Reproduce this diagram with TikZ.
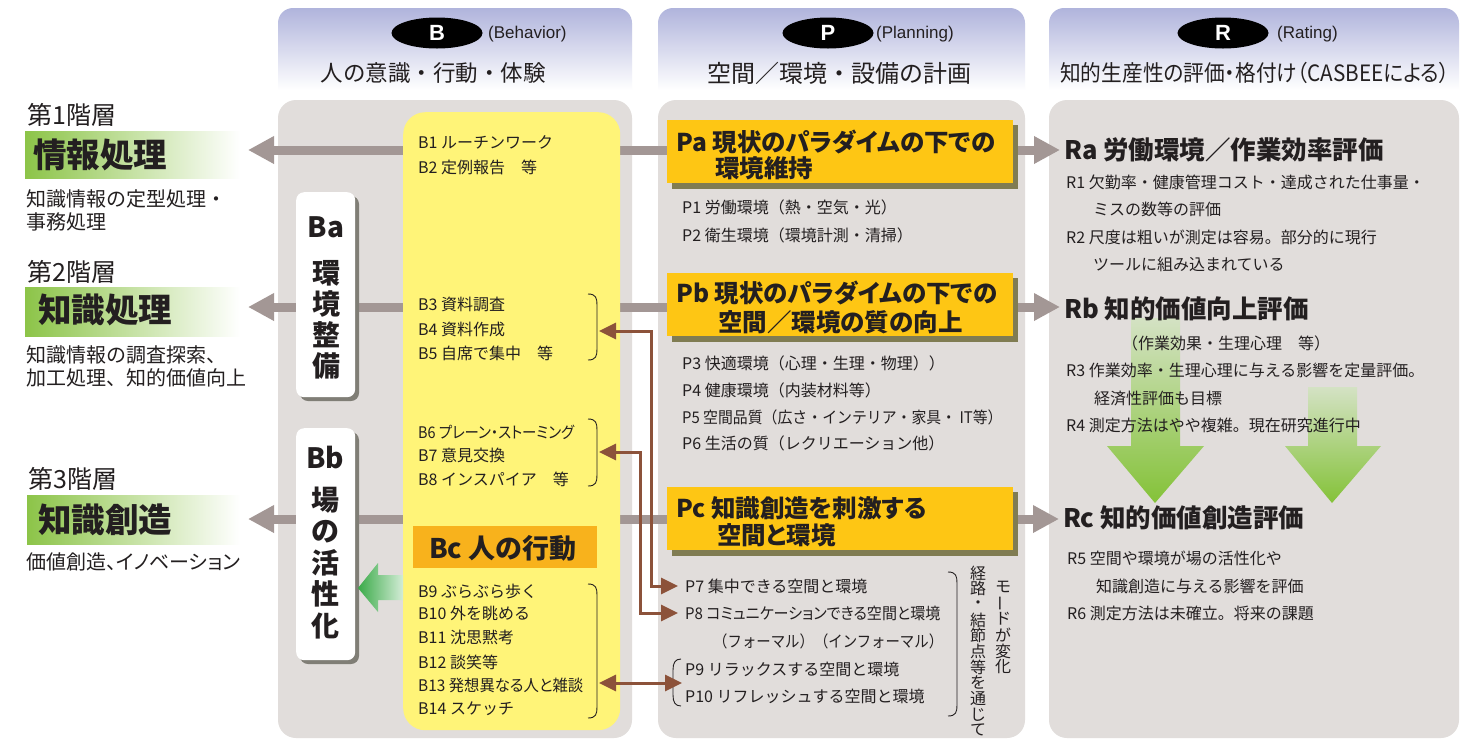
\documentclass[tikz,border=0pt]{standalone}
\usepackage{fontspec}
\setmainfont{Noto Sans CJK JP}
\newfontfamily\pfam{Noto Sans CJK JP}[RawFeature=+palt]
\newfontfamily\lat{Liberation Sans}
\usetikzlibrary{arrows.meta,shapes.geometric,calc}
\definecolor{txt}{RGB}{35,31,32}
\definecolor{panel}{RGB}{225,221,219}
\definecolor{hdr}{RGB}{176,180,220}
\definecolor{gline}{RGB}{163,151,149}
\definecolor{ybox}{RGB}{255,244,120}
\definecolor{pboxc}{RGB}{254,198,20}
\definecolor{bcbox}{RGB}{248,178,28}
\definecolor{olive}{RGB}{128,124,82}
\definecolor{wshadow}{RGB}{128,126,118}
\definecolor{brn}{RGB}{140,82,58}
\definecolor{lgreen}{RGB}{140,196,72}
\definecolor{dgreen}{RGB}{58,170,72}
\definecolor{gtop}{RGB}{212,226,196}
\definecolor{gbot}{RGB}{132,194,56}
\newcommand{\myfs}[1]{\fontsize{#1}{#1}\selectfont}
\newcommand{\myrbrace}[3]{\draw[brace] ({#1-9},#2) .. controls ({#1-1},#2) and (#1,{#2+4}) .. (#1,{#2+11}) -- (#1,{#3-11}) .. controls (#1,{#3-4}) and ({#1-1},#3) .. ({#1-9},#3);}
\pgfdeclarelayer{back}
\pgfdeclarelayer{lines}
\pgfdeclarelayer{shad}
\pgfsetlayers{back,lines,shad,main}
\begin{document}
\begin{tikzpicture}[x=1pt,y=-1pt,
  tx/.style={anchor=west,inner sep=0pt,text=txt,font=\myfs{16}},
  ptx/.style={anchor=west,inner sep=0pt,text=txt,font=\pfam\myfs{16}},
  hd/.style={anchor=west,inner sep=0pt,text=txt,font=\pfam\bfseries\myfs{24.5}},
  rhd/.style={anchor=west,inner sep=0pt,text=txt,font=\pfam\bfseries\myfs{25.5}},
  lvl/.style={anchor=west,inner sep=0pt,text=txt,font=\myfs{25}},
  big/.style={anchor=west,inner sep=0pt,text=txt,font=\bfseries\myfs{33.5}},
  desc/.style={anchor=west,inner sep=0pt,text=txt,font=\myfs{20}},
  vch/.style={inner sep=0pt,text=txt,font=\bfseries\myfs{28}},
  sch/.style={inner sep=0pt,text=txt,font=\myfs{16}},
  pboxst/.style={fill=pboxc,anchor=north west,minimum width=346pt,minimum height=63pt,inner sep=0pt},
  wboxst/.style={fill=white,rounded corners=8pt,anchor=north west,minimum width=59pt,inner sep=0pt},
  gl/.style={draw=gline,line width=9pt,-{Triangle[length=26pt,width=26pt]}},
  br/.style={draw=brn,line width=3pt,{Triangle[length=17pt,width=16pt]}-{Triangle[length=17pt,width=16pt]}},
  brace/.style={draw=txt,line width=0.9pt},
  ell/.style={ellipse,fill=black,minimum width=91pt,minimum height=31pt,inner sep=0pt,text=white,font=\lat\bfseries\myfs{22}},
  sub/.style={inner sep=0pt,text=txt,font=\myfs{22.5}},
  eng/.style={anchor=west,inner sep=0pt,text=txt,font=\lat\myfs{17}},
]
\useasboundingbox (0,0) rectangle (1481,740);
\begin{pgfonlayer}{back}
\fill[white] (0,0) rectangle (1481,740);
\foreach \a/\b in {278/632,658/1025,1049/1459}{
  \shade[top color=hdr,bottom color=white] (\a,90) -- (\a,23) arc[start angle=180,end angle=270,radius=15] -- ({\b-15},8) arc[start angle=270,end angle=360,radius=15] -- (\b,90) -- cycle;
  \fill[panel,rounded corners=18pt] (\a,100) rectangle (\b,738);
}
\end{pgfonlayer}

% headers
\node[ell] (EB) at (437,33) {B};
\node[eng] (EBt) at (488,34) {(Behavior)};
\node[sub] (SB) at (433,73) {人の意識・行動・体験};
\node[ell] (EP) at (828,33) {P};
\node[eng] (EPt) at (876,34) {(Planning)};
\node[sub,font=\myfs{24}] (SP) at (839,73) {空間／環境・設備の計画};
\node[ell] (ER) at (1223,33) {R};
\node[eng] (ERt) at (1277,34) {(Rating)};
\node[sub,font=\pfam\myfs{22.5}] (SR) at (1255,73) {\scalebox{0.92}[1]{知的生産性の評価・格付け（CASBEEによる）}};

% left levels
\shade[left color=lgreen,right color=white] (25,131) rectangle (240,178);
\shade[left color=lgreen,right color=white] (25,287) rectangle (240,336);
\shade[left color=lgreen,right color=white] (27,495) rectangle (240,544);
\node[lvl] (L1) at (27,115) {第1階層};
\node[big] (K1) at (33,155) {情報処理};
\node[desc] (D1a) at (26,199) {知識情報の定型処理・};
\node[desc] (D1b) at (26,222) {事務処理};
\node[lvl] (L2) at (27,272) {第2階層};
\node[big] (K2) at (38,310) {知識処理};
\node[desc] (D2a) at (26,355) {知識情報の調査探索、};
\node[desc] (D2b) at (26,378) {加工処理、知的価値向上};
\node[lvl] (L3) at (28,479) {第3階層};
\node[big] (K3) at (38,520) {知識創造};
\node[desc,font=\pfam\myfs{20}] (D3a) at (26,562) {価値創造、イノベーション};
\coordinate (T1) at (248,150);
\coordinate (T2) at (248,307);
\coordinate (T3) at (248,519);

% B column boxes
\begin{pgfonlayer}{shad}
\fill[wshadow,rounded corners=8pt] (300,196) rectangle (359,401);
\fill[wshadow,rounded corners=8pt] (300,432) rectangle (359,664);
\fill[olive] (418,531) rectangle (602,573);
\fill[olive] (672,125) rectangle (1018,189);
\fill[olive] (672,278) rectangle (1018,342);
\fill[olive] (672,492) rectangle (1018,556);
\end{pgfonlayer}
\node[wboxst,minimum height=205pt] (Ba) at (296,192) {};
\node[wboxst,minimum height=232pt] (Bb) at (296,428) {};
\node[fill=ybox,rounded corners=22pt,anchor=north west,minimum width=217pt,minimum height=618pt,inner sep=0pt] (Yb) at (403,112) {};
\node[fill=bcbox,anchor=north west,minimum width=184pt,minimum height=42pt,inner sep=0pt] (Bc) at (413,526) {};
\shade[left color=dgreen,right color=dgreen!22!white] (358,588) -- (378,563) -- (378,575) -- (403,575) -- (403,600) -- (378,600) -- (378,612) -- cycle;

\node[vch] (Bat) at (326,227) {Ba};
\foreach \c/\y [count=\i] in {環/273,境/304,整/335,備/366} \node[vch] (ba\i) at (326,\y) {\c};
\node[vch] (Bbt) at (325,457) {Bb};
\foreach \c/\y [count=\i] in {場/500,の/532,活/563,性/594,化/626} \node[vch] (bb\i) at (325,\y) {\c};

% P boxes
\node[pboxst] (Pa) at (667,120) {};
\node[pboxst] (Pb) at (667,273) {};
\node[pboxst] (Pc) at (667,487) {};

% B texts
\node[tx] (B1) at (418,142) {B1 ルーチンワーク};
\node[tx] (B2) at (418,167) {B2 定例報告　等};
\node[tx] (B3) at (418,304) {B3 資料調査};
\node[tx] (B4) at (418,329) {B4 資料作成};
\node[tx] (B5) at (418,353) {B5 自席で集中　等};
\node[ptx] (B6) at (418,432) {\scalebox{0.9}[1]{B6 プレーン・ストーミング}};
\node[tx] (B7) at (418,455) {B7 意見交換};
\node[tx] (B8) at (418,479) {B8 インスパイア　等};
\node[anchor=west,inner sep=0pt,text=txt,font=\pfam\bfseries\myfs{27}] (BcT) at (429,548) {Bc 人の行動};
\node[tx] (B9) at (418,591) {B9 ぶらぶら歩く};
\node[tx] (B10) at (418,613) {B10 外を眺める};
\node[tx] (B11) at (418,637) {B11 沈思黙考};
\node[tx] (B12) at (418,662) {B12 談笑等};
\node[ptx] (B13) at (418,685) {\scalebox{0.96}[1]{B13 発想異なる人と雑談}};
\node[tx] (B14) at (418,709) {B14 スケッチ};
\myrbrace{597}{294}{360}
\myrbrace{597}{419}{486}
\myrbrace{597}{584}{718}

% P texts
\node[hd] (PaT) at (676,142) {Pa 現状のパラダイムの下での};
\node[hd] (PaT2) at (715,168) {環境維持};
\node[tx] (P1) at (682,207) {P1 労働環境（熱・空気・光）};
\node[tx] (P2) at (682,235) {P2 衛生環境（環境計測・清掃）};
\node[hd] (PbT) at (676,293) {Pb 現状のパラダイムの下での};
\node[hd] (PbT2) at (718,322) {空間／環境の質の向上};
\node[tx] (P3) at (682,363) {P3 快適環境（心理・生理・物理））};
\node[tx] (P4) at (682,390) {P4 健康環境（内装材料等）};
\node[tx] (P5) at (682,417) {\scalebox{0.93}[1]{P5 空間品質（広さ・インテリア・家具・ IT等）}};
\node[tx] (P6) at (682,443) {P6 生活の質（レクリエーション他）};
\node[hd] (PcT) at (676,508) {Pc 知識創造を刺激する};
\node[hd] (PcT2) at (717,535) {空間と環境};
\node[tx] (P7) at (685,586) {P7 集中できる空間と環境};
\node[ptx] (P8) at (685,613) {\scalebox{0.94}[1]{P8 コミュニケーションできる空間と環境}};
\node[tx] (P8b) at (713,641) {\scalebox{0.9}[1]{（フォーマル）（インフォーマル）}};
\node[tx] (P9) at (685,669) {P9 リラックスする空間と環境};
\node[tx] (P10) at (685,696) {P10 リフレッシュする空間と環境};
\draw[brace] (681,659) .. controls (675,659) and (673,663) .. (673,670) -- (673,695) .. controls (673,702) and (675,706) .. (681,706);
\myrbrace{957}{572}{716}
\foreach \c [count=\i] in {モ,{\rotatebox[origin=c]{90}{ー}},ド,が,変,化} \node[sch] (vr\i) at (1003,{587+16*(\i-1)}) {\c};
\foreach \c [count=\i] in {経,路,・,結,節,点,等,を,通,じ,て} \node[sch] (vl\i) at (978,{573+15.7*(\i-1)}) {\c};

% R column
\shade[top color=gtop,bottom color=gbot] (1131,318) -- (1180,318) -- (1180,446) -- (1204,446) -- (1155,503) -- (1107,446) -- (1131,446) -- cycle;
\shade[top color=gtop,bottom color=gbot] (1308,387) -- (1357,387) -- (1357,446) -- (1381,446) -- (1332,503) -- (1285,446) -- (1308,446) -- cycle;
\node[rhd] (Ra) at (1064,150) {Ra 労働環境／作業効率評価};
\node[tx] (R1) at (1066,182) {R1 欠勤率・健康管理コスト・達成された仕事量・};
\node[tx] (R1b) at (1093,209) {ミスの数等の評価};
\node[tx] (R2) at (1066,237) {R2 尺度は粗いが測定は容易。部分的に現行};
\node[tx] (R2b) at (1093,264) {ツールに組み込まれている};
\node[rhd] (Rb) at (1064,309) {Rb 知的価値向上評価};
\node[tx] (Rbs) at (1122,343) {（作業効果・生理心理　等）};
\node[tx] (R3) at (1066,370) {R3 作業効率・生理心理に与える影響を定量評価。};
\node[tx] (R3b) at (1094,398) {経済性評価も目標};
\node[tx] (R4) at (1066,425) {R4 測定方法はやや複雑。現在研究進行中};
\node[rhd] (Rc) at (1063,518) {Rc 知的価値創造評価};
\node[tx] (R5) at (1067,558) {R5 空間や環境が場の活性化や};
\node[tx] (R5b) at (1096,586) {知識創造に与える影響を評価};
\node[tx] (R6) at (1067,613) {R6 測定方法は未確立。将来の課題};

% gray connectors
\begin{pgfonlayer}{lines}
\draw[gl] (Pa.west |- T1) -- (T1);
\draw[gl] (Pb.west |- T2) -- (T2);
\draw[gl] (Pc.west |- T3) -- (T3);
\draw[gl,shorten >=4pt] (Pa.east |- T1) -- (Ra.west |- T1);
\draw[gl,shorten >=4pt] (Pb.east |- T2) -- (Rb.west |- T2);
\draw[gl,shorten >=4pt] (Pc.east |- T3) -- (Rc.west |- T3);
\end{pgfonlayer}

% brown connectors
\coordinate (A1) at (599,331);
\coordinate (A2) at (599,452);
\coordinate (A3) at (599,683);
\draw[br] (A1) -| ($(P7.west)+(-34,0)$) -- ($(P7.west)+(-7,0)$);
\draw[br] (A2) -| ($(P8.west)+(-45,0)$) -- ($(P8.west)+(-7,0)$);
\draw[br,shorten >=3pt] (A3) -- (A3 -| P9.west);
\end{tikzpicture}
\end{document}
